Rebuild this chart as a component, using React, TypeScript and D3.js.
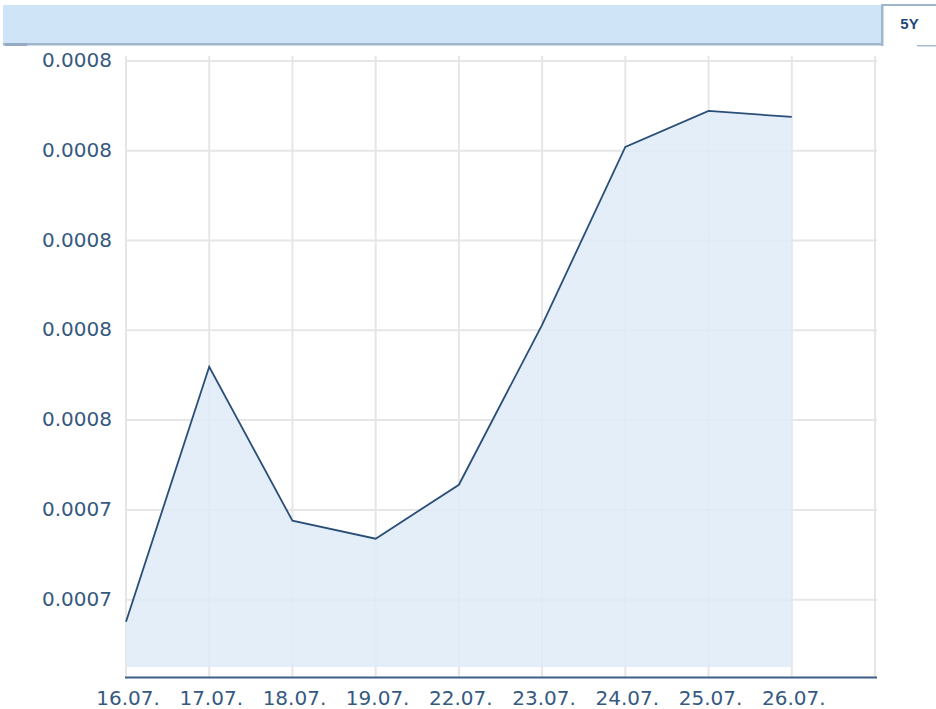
import React from "react";
import * as d3 from "d3";

const categories = ["16.07.", "17.07.", "18.07.", "19.07.", "22.07.", "23.07.", "24.07.", "25.07.", "26.07."];
const values = [0.00072755, 0.00075594, 0.00073879, 0.00073679, 0.0007428, 0.00076061, 0.00078043, 0.00078444, 0.00078377];
const yTickValues = [0.00073, 0.00074, 0.00075, 0.00076, 0.00077, 0.00078, 0.00079];
const yTickLabels = ["0.0007", "0.0007", "0.0008", "0.0008", "0.0008", "0.0008", "0.0008"];
const tabLabel = "5Y";

const W = 936;
const H = 709;

export default function App() {
  const slots = categories.length + 1;
  const x = d3.scaleLinear().domain([0, slots - 1]).range([126, 875]);
  const y = d3.scaleLinear().domain([0.0007225, 0.00079]).range([667, 61]);

  const area = d3
    .area<number>()
    .x((_, i) => x(i))
    .y0(y(0.0007225))
    .y1((d) => y(d));
  const line = d3
    .line<number>()
    .x((_, i) => x(i))
    .y((d) => y(d));

  const font = "'DejaVu Sans', Verdana, sans-serif";
  const textColor = "#36597f";

  return (
    <svg
      width={W}
      height={H}
      style={{ position: "absolute", left: 0, top: 0, display: "block", background: "#fff" }}
    >
      {/* header */}
      <rect x={3} y={5} width={879} height={39} fill="#d0e4f7" />
      <rect x={3} y={43} width={879} height={2.5} fill="#9fb6cd" />
      <rect x={5} y={43} width={22} height={3} fill="#93aac2" />
      <rect x={882} y={4} width={54} height={2} fill="#9fb6cd" />
      <rect x={881} y={4} width={2.5} height={42} fill="#9fb6cd" />
      <rect x={917} y={45} width={19} height={1.5} fill="#a9bdd2" />
      <text
        x={909.5}
        y={28.5}
        textAnchor="middle"
        fontFamily="'Liberation Sans', Arial, sans-serif"
        fontWeight="bold"
        fontSize={15}
        fill="#1f4a78"
      >
        {tabLabel}
      </text>

      {/* grid */}
      {d3.range(slots).map((i) => (
        <line key={"vx" + i} x1={x(i)} x2={x(i)} y1={56} y2={677} stroke="#e6e6e6" strokeWidth={2} />
      ))}
      {yTickValues.map((t, i) => (
        <line key={"hy" + i} x1={126} x2={877} y1={y(t)} y2={y(t)} stroke="#e6e6e6" strokeWidth={2} />
      ))}

      {/* area and line */}
      <path d={area(values) || ""} fill="#deebf8" fillOpacity={0.85} />
      <path d={line(values) || ""} fill="none" stroke="#2b4e77" strokeWidth={1.8} />

      {/* x axis */}
      <line x1={125} x2={877} y1={677.5} y2={677.5} stroke="#3c5f88" strokeWidth={2.2} />

      {yTickValues.map((t, i) => (
        <text
          key={"yl" + i}
          x={112}
          y={y(t) + 6}
          textAnchor="end"
          fontFamily={font}
          fontSize={20}
          fill={textColor}
        >
          {yTickLabels[i]}
        </text>
      ))}
      {categories.map((c, i) => (
        <text
          key={"xl" + i}
          x={x(i) + 2}
          y={705}
          textAnchor="middle"
          fontFamily={font}
          fontSize={20}
          fill={textColor}
        >
          {c}
        </text>
      ))}
    </svg>
  );
}
